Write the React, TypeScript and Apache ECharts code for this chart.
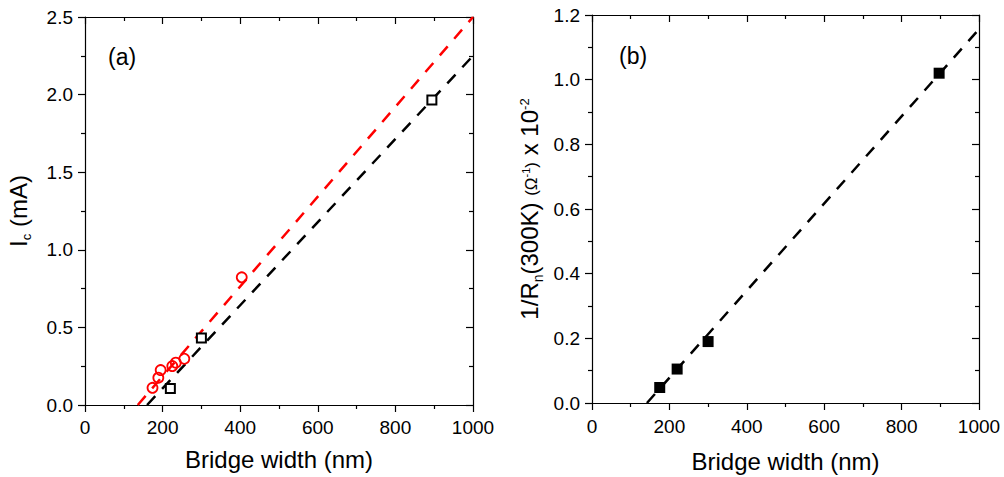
import React, { useEffect, useRef } from "react";
import * as echarts from "echarts";

// ---- Data ----
// Panel (a): critical current vs bridge width
const sqWidthA = [220, 300, 894];
const sqIcA = [0.107, 0.432, 1.965];
const circWidthA = [174, 189, 195, 225, 234, 256, 404];
const circIcA = [0.111, 0.176, 0.225, 0.251, 0.273, 0.298, 0.823];
const fitRedX = [136, 1000];
const fitRedY = [0, 2.5];
const fitBlackX = [160, 1000];
const fitBlackY = [0, 2.25];

// Panel (b): 1/Rn(300K) vs bridge width
const sqWidthB = [175, 220, 300, 897];
const invRnB = [0.048, 0.105, 0.19, 1.02];
const fitBX = [142, 1000];
const fitBY = [0, 1.156];

// Axis settings
const xTicks = { min: 0, max: 1000, interval: 200 };
const yTicksA = { min: 0, max: 2.5, interval: 0.5 };
const yTicksB = { min: 0, max: 1.2, interval: 0.2 };

const FONT = "'Liberation Sans', Arial, Helvetica, sans-serif";

const zip = (xs: number[], ys: number[]) => xs.map((x, i) => [x, ys[i]]);

function App() {
  const ref = useRef<HTMLDivElement>(null);

  useEffect(() => {
    if (!ref.current) return;
    const chart = echarts.init(ref.current, undefined, { renderer: "svg" });

    const lineStyle = { color: "#000", width: 1.2 };
    const tickStyle = { color: "#000", width: 1.2 };

    const mkX = (gridIndex: number, main: boolean, nameGap: number, labelMargin: number) => ({
      type: "value",
      gridIndex,
      position: main ? "bottom" : "top",
      ...xTicks,
      name: main ? "Bridge width (nm)" : "",
      nameLocation: "middle",
      nameGap,
      nameTextStyle: { fontSize: 24, fontFamily: FONT, color: "#000" },
      axisLine: { show: true, onZero: false, lineStyle },
      axisTick: { show: true, inside: !main, length: 7, lineStyle: tickStyle },
      minorTick: { show: true, splitNumber: 2, length: 4, lineStyle: tickStyle },
      axisLabel: {
        show: main,
        margin: labelMargin,
        fontSize: 19,
        fontFamily: FONT,
        color: "#000",
        formatter: (v: number) => String(v),
      },
      splitLine: { show: false },
      minorSplitLine: { show: false },
    });

    const mkY = (
      gridIndex: number,
      main: boolean,
      ticks: { min: number; max: number; interval: number },
      name: string,
      nameGap: number,
      rich: any
    ) => ({
      type: "value",
      gridIndex,
      position: main ? "left" : "right",
      ...ticks,
      name: main ? name : "",
      nameLocation: "middle",
      nameRotate: 90,
      nameGap,
      nameTextStyle: { fontSize: 24, fontFamily: FONT, color: "#000", rich },
      axisLine: { show: true, onZero: false, lineStyle },
      axisTick: { show: true, inside: !main, length: 7, lineStyle: tickStyle },
      minorTick: { show: true, splitNumber: 2, length: 4, lineStyle: tickStyle },
      axisLabel: {
        show: main,
        margin: 12,
        fontSize: 19,
        fontFamily: FONT,
        color: "#000",
        formatter: (v: number) => v.toFixed(1),
      },
      splitLine: { show: false },
      minorSplitLine: { show: false },
    });

    const richA = {
      m: { fontSize: 24, fontFamily: FONT, color: "#000", lineHeight: 24 },
      s: { fontSize: 13, fontFamily: FONT, color: "#000", verticalAlign: "bottom", height: 8, lineHeight: 8 },
    };
    const richB = {
      m: { fontSize: 24, fontFamily: FONT, color: "#000", lineHeight: 24 },
      s: { fontSize: 14, fontFamily: FONT, color: "#000", verticalAlign: "bottom", height: 6, lineHeight: 6 },
      p: { fontSize: 17, fontFamily: FONT, color: "#000", verticalAlign: "bottom", height: 20, lineHeight: 20 },
      v: { fontSize: 11, fontFamily: FONT, color: "#000", verticalAlign: "top", height: 18, lineHeight: 18 },
      u: { fontSize: 13, fontFamily: FONT, color: "#000", verticalAlign: "top", height: 14, lineHeight: 14 },
    };

    const dash = [12, 10];

    const option: any = {
      animation: false,
      backgroundColor: "#fff",
      grid: [
        { left: 85, top: 17, width: 388, height: 388, outerBoundsMode: "none", containLabel: false },
        { left: 592, top: 15, width: 387, height: 388, outerBoundsMode: "none", containLabel: false },
      ],
      xAxis: [mkX(0, true, 42, 13), mkX(0, false, 0, 0), mkX(1, true, 46, 14), mkX(1, false, 0, 0)],
      yAxis: [
        mkY(0, true, yTicksA, "{m|I}{s|c}{m| (mA)}", 55, richA),
        mkY(0, false, yTicksA, "", 0, richA),
        mkY(1, true, yTicksB, "{m|1/R}{s|n}{m|(300K) }{p|(Ω}{v|-1}{p|)}{m| x 10}{u|-2}", 51, richB),
        mkY(1, false, yTicksB, "", 0, richB),
      ],
      graphic: [
        { type: "text", left: 108, top: 45, style: { text: "(a)", fontSize: 23, fontFamily: FONT, fill: "#000" } },
        { type: "text", left: 619, top: 44, style: { text: "(b)", fontSize: 23, fontFamily: FONT, fill: "#000" } },
      ],
      series: [
        {
          type: "line",
          xAxisIndex: 0,
          yAxisIndex: 0,
          data: zip(fitRedX, fitRedY),
          symbol: "none",
          lineStyle: { color: "#ff0000", width: 2.5, type: dash },
          z: 2,
        },
        {
          type: "line",
          xAxisIndex: 0,
          yAxisIndex: 0,
          data: zip(fitBlackX, fitBlackY),
          symbol: "none",
          lineStyle: { color: "#000", width: 2.5, type: dash },
          z: 2,
        },
        {
          type: "scatter",
          xAxisIndex: 0,
          yAxisIndex: 0,
          data: zip(sqWidthA, sqIcA),
          symbol: "rect",
          symbolSize: 9,
          itemStyle: { color: "#fff", borderColor: "#000", borderWidth: 2, opacity: 1 },
          z: 3,
        },
        {
          type: "scatter",
          xAxisIndex: 0,
          yAxisIndex: 0,
          data: zip(circWidthA, circIcA),
          symbol: "circle",
          symbolSize: 10,
          itemStyle: { color: "transparent", borderColor: "#ff0000", borderWidth: 1.8, opacity: 1 },
          z: 3,
        },
        {
          type: "line",
          xAxisIndex: 2,
          yAxisIndex: 2,
          data: zip(fitBX, fitBY),
          symbol: "none",
          lineStyle: { color: "#000", width: 2.5, type: dash },
          z: 2,
        },
        {
          type: "scatter",
          xAxisIndex: 2,
          yAxisIndex: 2,
          data: zip(sqWidthB, invRnB),
          symbol: "rect",
          symbolSize: 11,
          itemStyle: { color: "#000", opacity: 1 },
          z: 3,
        },
      ],
    };

    chart.setOption(option);
    return () => chart.dispose();
  }, []);

  return (
    <div
      ref={ref}
      style={{ position: "absolute", left: 0, top: 0, width: 1004, height: 477, background: "#fff" }}
    />
  );
}

export default App;
